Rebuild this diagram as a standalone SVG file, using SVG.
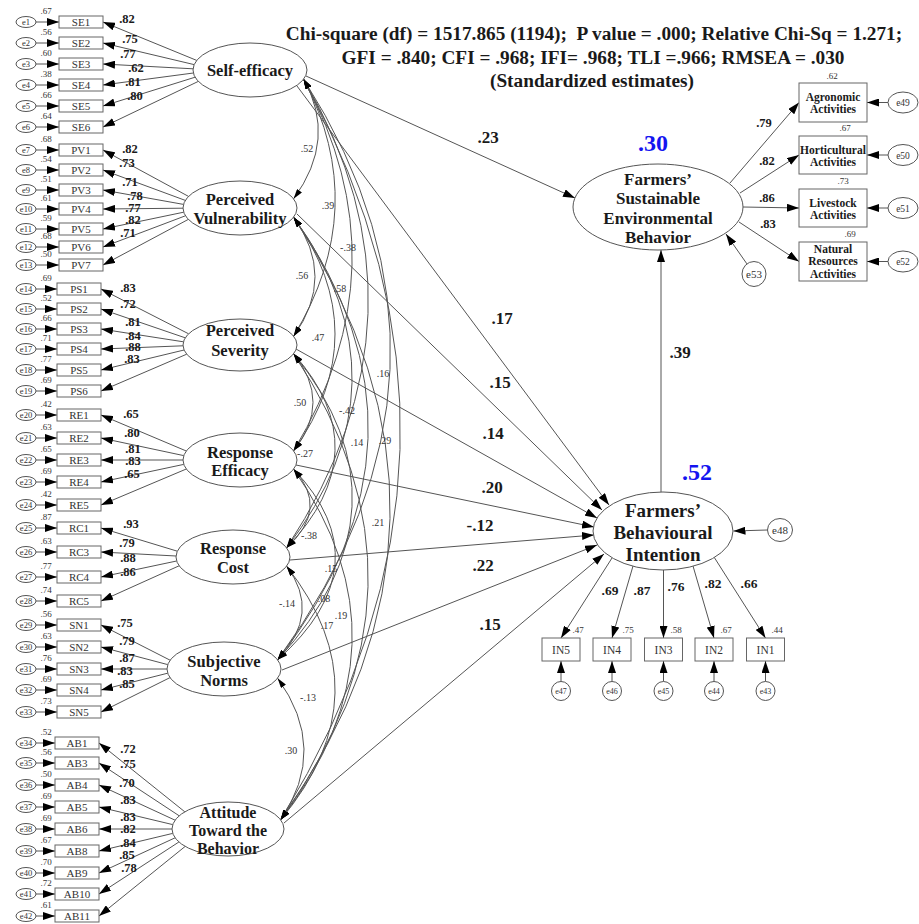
<svg xmlns="http://www.w3.org/2000/svg" width="919" height="924" viewBox="0 0 919 924">
<style>
text{font-family:"Liberation Serif","Times New Roman",serif;fill:#1a1a1a}
.lat{font-size:16.5px;font-weight:bold;text-anchor:middle}
.ov{fill:#fff;stroke:#555;stroke-width:1}
.bx{fill:#fff;stroke:#666;stroke-width:1}
.it{font-size:11px;text-anchor:middle;fill:#333}
.el{font-size:8.5px;text-anchor:middle;fill:#333}
.v{font-size:9px;text-anchor:middle;fill:#333}
.ld{font-size:12.5px;font-weight:bold;text-anchor:middle}
.cv{font-size:10px;text-anchor:middle;fill:#333}
.st{font-size:17px;font-weight:bold;text-anchor:middle}
.ti{font-size:19.3px;font-weight:bold;text-anchor:middle}
.r2{font-size:24px;font-weight:bold;text-anchor:middle;fill:#1414f0}
.rb{font-size:11.5px;font-weight:bold;text-anchor:middle}
.ln{stroke:#555;stroke-width:1;fill:none}
.ar{marker-end:url(#a)}
.cc{marker-start:url(#c);marker-end:url(#c)}
</style>
<defs>
<marker id="a" viewBox="0 0 12 8" refX="12" refY="4" markerWidth="12" markerHeight="8" markerUnits="userSpaceOnUse" orient="auto"><path d="M0,0 L12,4 L0,8 z" fill="#000"/></marker>
<marker id="c" viewBox="0 0 10 6" refX="10" refY="3" markerWidth="10" markerHeight="6" markerUnits="userSpaceOnUse" orient="auto-start-reverse"><path d="M0,0 L10,3 L0,6 z" fill="#000"/></marker>
</defs>
<rect x="0" y="0" width="919" height="924" fill="#fff"/>

<g id="title">
<text class="ti" x="594" y="40" xml:space="preserve">Chi-square (df) = 1517.865 (1194);  P value = .000; Relative Chi-Sq = 1.271;</text>
<text class="ti" x="593" y="64">GFI = .840; CFI = .968; IFI= .968; TLI =.966; RMSEA = .030</text>
<text class="ti" x="592" y="87">(Standardized estimates)</text>
</g>

<g id="connectors">
<g class="ln ar">
<line x1="36" y1="22" x2="59" y2="22"/><line x1="36" y1="43" x2="59" y2="43"/><line x1="36" y1="64" x2="59" y2="64"/><line x1="36" y1="85" x2="59" y2="85"/><line x1="36" y1="106" x2="59" y2="106"/><line x1="36" y1="127" x2="59" y2="127"/>
<line x1="36" y1="150" x2="59" y2="150"/><line x1="36" y1="170" x2="59" y2="170"/><line x1="36" y1="190" x2="59" y2="190"/><line x1="36" y1="209" x2="59" y2="209"/><line x1="36" y1="229" x2="59" y2="229"/><line x1="36" y1="247" x2="59" y2="247"/><line x1="36" y1="265" x2="59" y2="265"/>
<line x1="36" y1="289" x2="57" y2="289"/><line x1="36" y1="309" x2="57" y2="309"/><line x1="36" y1="329" x2="57" y2="329"/><line x1="36" y1="349" x2="57" y2="349"/><line x1="36" y1="370" x2="57" y2="370"/><line x1="36" y1="391" x2="57" y2="391"/>
<line x1="36" y1="415" x2="57" y2="415"/><line x1="36" y1="438" x2="57" y2="438"/><line x1="36" y1="460" x2="57" y2="460"/><line x1="36" y1="482" x2="57" y2="482"/><line x1="36" y1="505" x2="57" y2="505"/>
<line x1="36" y1="528" x2="57" y2="528"/><line x1="36" y1="552" x2="57" y2="552"/><line x1="36" y1="577" x2="57" y2="577"/><line x1="36" y1="601" x2="57" y2="601"/>
<line x1="36" y1="625" x2="57" y2="625"/><line x1="36" y1="647" x2="57" y2="647"/><line x1="36" y1="669" x2="57" y2="669"/><line x1="36" y1="690" x2="57" y2="690"/><line x1="36" y1="712" x2="57" y2="712"/>
<line x1="36" y1="743" x2="55" y2="743"/><line x1="36" y1="763" x2="55" y2="763"/><line x1="36" y1="785" x2="55" y2="785"/><line x1="36" y1="807" x2="55" y2="807"/><line x1="36" y1="829" x2="55" y2="829"/><line x1="36" y1="851" x2="55" y2="851"/><line x1="36" y1="873" x2="55" y2="873"/><line x1="36" y1="894" x2="55" y2="894"/><line x1="36" y1="916" x2="55" y2="916"/>
</g>
<g class="ln ar">
<line x1="196.7" y1="60.4" x2="103" y2="22"/><line x1="194.1" y1="64.6" x2="103" y2="43"/><line x1="193" y1="68.8" x2="103" y2="64"/><line x1="193.4" y1="73" x2="103" y2="85"/><line x1="195.1" y1="77.2" x2="103" y2="106"/><line x1="198.3" y1="81.4" x2="103" y2="127"/>
<line x1="188.5" y1="196.4" x2="103" y2="150"/><line x1="185.3" y1="200.4" x2="103" y2="170"/><line x1="183.5" y1="204.4" x2="103" y2="190"/><line x1="183" y1="208.2" x2="103" y2="209"/><line x1="183.7" y1="212.2" x2="103" y2="229"/><line x1="185.4" y1="215.8" x2="103" y2="247"/><line x1="188.3" y1="219.4" x2="103" y2="265"/>
<line x1="188.6" y1="333.8" x2="101" y2="289"/><line x1="185.2" y1="337.8" x2="101" y2="309"/><line x1="183.4" y1="341.8" x2="101" y2="329"/><line x1="183" y1="345.8" x2="101" y2="349"/><line x1="184.1" y1="350" x2="101" y2="370"/><line x1="186.7" y1="354.2" x2="101" y2="391"/>
<line x1="186.3" y1="451" x2="101" y2="415"/><line x1="183.7" y1="455.6" x2="101" y2="438"/><line x1="183" y1="460" x2="101" y2="460"/><line x1="183.7" y1="464.4" x2="101" y2="482"/><line x1="186.3" y1="469" x2="101" y2="505"/>
<line x1="177.3" y1="551.2" x2="101" y2="528"/><line x1="176.1" y1="556" x2="101" y2="552"/><line x1="176.6" y1="561" x2="101" y2="577"/><line x1="179.1" y1="565.8" x2="101" y2="601"/>
<line x1="170.1" y1="660.2" x2="101" y2="625"/><line x1="167.7" y1="664.6" x2="101" y2="647"/><line x1="167" y1="669" x2="101" y2="669"/><line x1="167.7" y1="673.2" x2="101" y2="690"/><line x1="170" y1="677.6" x2="101" y2="712"/>
<line x1="184.8" y1="811.8" x2="99" y2="743"/><line x1="179.2" y1="815.8" x2="99" y2="763"/><line x1="175.1" y1="820.2" x2="99" y2="785"/><line x1="172.7" y1="824.6" x2="99" y2="807"/><line x1="172" y1="829" x2="99" y2="829"/><line x1="172.7" y1="833.4" x2="99" y2="851"/><line x1="175.1" y1="837.8" x2="99" y2="873"/><line x1="178.9" y1="842" x2="99" y2="894"/><line x1="185.2" y1="846.4" x2="99" y2="916"/>
</g>
<g class="ln cc">
<path d="M303.6,79.2 Q337.4,139 293.6,198.8"/>
<path d="M303.6,79.2 Q371.4,207.7 293.6,336.2"/>
<path d="M303.6,79.2 Q405.4,265 293.6,450.8"/>
<path d="M303.6,79.2 Q440.9,313.5 286.6,547.8"/>
<path d="M303.6,79.2 Q489.4,369.5 277.6,659.8"/>
<path d="M303.6,79.2 Q507.9,449.5 280.6,819.8"/>
<path d="M293.6,217.2 Q336.4,276.7 293.6,336.2"/>
<path d="M293.6,217.2 Q376.4,334 293.6,450.8"/>
<path d="M293.6,217.2 Q413.9,382.5 286.6,547.8"/>
<path d="M293.6,217.2 Q450.4,438.5 277.6,659.8"/>
<path d="M293.6,217.2 Q492.9,518.5 280.6,819.8"/>
<path d="M293.6,353.8 Q332.4,402.3 293.6,450.8"/>
<path d="M293.6,353.8 Q379.9,450.8 286.6,547.8"/>
<path d="M293.6,353.8 Q418.4,506.8 277.6,659.8"/>
<path d="M293.6,353.8 Q448.9,586.8 280.6,819.8"/>
<path d="M293.6,469.2 Q329.9,508.5 286.6,547.8"/>
<path d="M293.6,469.2 Q384.4,564.5 277.6,659.8"/>
<path d="M293.6,469.2 Q416.9,644.5 280.6,819.8"/>
<path d="M286.6,566.2 Q321.9,613 277.6,659.8"/>
<path d="M286.6,566.2 Q386.4,693 280.6,819.8"/>
<path d="M277.6,678.2 Q328.9,749 280.6,819.8"/>
</g>
<g class="ln ar">
<line x1="306" y1="76" x2="575" y2="198"/>
<line x1="297" y1="86" x2="609" y2="505"/>
<line x1="297" y1="214" x2="602" y2="510"/>
<line x1="296" y1="349" x2="597" y2="518"/>
<line x1="296" y1="465" x2="594" y2="527"/>
<line x1="290" y1="560" x2="594" y2="535"/>
<line x1="282" y1="670" x2="597" y2="545"/>
<line x1="284" y1="823" x2="604" y2="554"/>
<line x1="661" y1="492" x2="661" y2="250"/>
<line x1="730" y1="183" x2="799" y2="102.5"/>
<line x1="740" y1="193" x2="799" y2="155"/>
<line x1="743" y1="207" x2="799" y2="208"/>
<line x1="739" y1="222" x2="799" y2="261.5"/>
<line x1="888" y1="102.5" x2="867" y2="102.5"/>
<line x1="888" y1="155" x2="867" y2="155"/>
<line x1="888" y1="208" x2="867" y2="208"/>
<line x1="888" y1="261.5" x2="867" y2="261.5"/>
<line x1="747" y1="264" x2="726" y2="234"/>
<line x1="767.5" y1="530" x2="733.5" y2="531"/>
<line x1="612" y1="558" x2="561" y2="638"/>
<line x1="633" y1="566" x2="612" y2="638"/>
<line x1="663.5" y1="570" x2="663.5" y2="638"/>
<line x1="693" y1="566" x2="714" y2="638"/>
<line x1="714" y1="557" x2="765.5" y2="638"/>
<line x1="561" y1="681.5" x2="561" y2="661"/>
<line x1="612" y1="681.5" x2="612" y2="661"/>
<line x1="663.5" y1="681.5" x2="663.5" y2="661"/>
<line x1="714" y1="681.5" x2="714" y2="661"/>
<line x1="765.5" y1="681.5" x2="765.5" y2="661"/>
</g>
</g>

<g id="labels">
<text class="ld" x="127" y="22.5">.82</text><text class="ld" x="130" y="42.5">.75</text><text class="ld" x="128" y="58">.77</text><text class="ld" x="136" y="72">.62</text><text class="ld" x="133" y="86">.81</text><text class="ld" x="135" y="99.5">.80</text>
<text class="ld" x="130" y="152.5">.82</text><text class="ld" x="127" y="167">.73</text><text class="ld" x="130" y="185.5">.71</text><text class="ld" x="135" y="200">.78</text><text class="ld" x="133" y="211.5">.77</text><text class="ld" x="133" y="223.5">.82</text><text class="ld" x="128" y="236.5">.71</text>
<text class="ld" x="128" y="291.5">.83</text><text class="ld" x="128" y="307.5">.72</text><text class="ld" x="133" y="325.5">.81</text><text class="ld" x="133" y="340">.84</text><text class="ld" x="133" y="351">.88</text><text class="ld" x="132" y="362.5">.83</text>
<text class="ld" x="131" y="417.5">.65</text><text class="ld" x="132" y="436.5">.80</text><text class="ld" x="133" y="453">.81</text><text class="ld" x="133" y="465">.83</text><text class="ld" x="132" y="478">.65</text>
<text class="ld" x="131" y="527.5">.93</text><text class="ld" x="127" y="546.5">.79</text><text class="ld" x="128" y="562">.88</text><text class="ld" x="128" y="575.5">.86</text>
<text class="ld" x="125" y="626.5">.75</text><text class="ld" x="127" y="644.5">.79</text><text class="ld" x="127" y="662">.87</text><text class="ld" x="125" y="675">.83</text><text class="ld" x="127" y="687.5">.85</text>
<text class="ld" x="128" y="752.5">.72</text><text class="ld" x="128" y="767.5">.75</text><text class="ld" x="127" y="786.5">.70</text><text class="ld" x="128" y="804">.83</text><text class="ld" x="128" y="820.5">.83</text><text class="ld" x="128" y="832.5">.82</text><text class="ld" x="128" y="846.5">.84</text><text class="ld" x="127" y="859">.85</text><text class="ld" x="129" y="871.5">.78</text>
<text class="cv" x="307" y="151.5">.52</text><text class="cv" x="328" y="208.5">.39</text><text class="cv" x="348" y="250.5">-.38</text><text class="cv" x="302" y="278.5">.56</text><text class="cv" x="340" y="291.5">.58</text><text class="cv" x="318" y="340.5">.47</text><text class="cv" x="383" y="376.5">.16</text><text class="cv" x="300" y="405.5">.50</text><text class="cv" x="347" y="413.5">-.42</text><text class="cv" x="357" y="445.5">.14</text><text class="cv" x="385" y="443.5">.29</text><text class="cv" x="305" y="456.5">-.27</text><text class="cv" x="378" y="525.5">.21</text><text class="cv" x="309" y="538.5">-.38</text><text class="cv" x="331" y="571.5">.15</text><text class="cv" x="324" y="601.5">.08</text><text class="cv" x="341" y="618.5">.19</text><text class="cv" x="327" y="628.5">.17</text><text class="cv" x="287" y="606.5">-.14</text><text class="cv" x="308" y="700.5">-.13</text><text class="cv" x="291" y="753.5">.30</text>
<text class="st" x="488" y="143">.23</text><text class="st" x="502" y="324">.17</text><text class="st" x="500" y="388">.15</text><text class="st" x="493" y="439">.14</text><text class="st" x="492" y="493">.20</text><text class="st" x="480" y="531">-.12</text><text class="st" x="483" y="571">.22</text><text class="st" x="490" y="630">.15</text><text class="st" x="680" y="358">.39</text>
<text class="ld" x="764" y="126.5">.79</text><text class="ld" x="767" y="164.5">.82</text><text class="ld" x="767" y="201.5">.86</text><text class="ld" x="768" y="227.5">.83</text>
<text class="v" x="832" y="79">.62</text><text class="v" x="845" y="131">.67</text><text class="v" x="843" y="184">.73</text><text class="v" x="850" y="237">.69</text>
<text class="ld" style="font-size:13.5px" x="610" y="595">.69</text><text class="ld" style="font-size:13.5px" x="642" y="595">.87</text><text class="ld" style="font-size:13.5px" x="676" y="591">.76</text><text class="ld" style="font-size:13.5px" x="713" y="588">.82</text><text class="ld" style="font-size:13.5px" x="749" y="588">.66</text>
<text class="v" x="578" y="633">.47</text><text class="v" x="628" y="633">.75</text><text class="v" x="676" y="633">.58</text><text class="v" x="726" y="633">.67</text><text class="v" x="777" y="633">.44</text>
<text class="r2" x="653" y="151">.30</text>
<text class="r2" x="697" y="480">.52</text>
</g>

<g id="SelfEfficacy"><ellipse class="ov" cx="250" cy="70" rx="57" ry="27"/><text class="lat" x="250" y="76">Self-efficacy</text></g>
<g id="PerceivedVulnerability"><ellipse class="ov" cx="240" cy="208" rx="57" ry="27"/><text class="lat" x="240" y="205">Perceived</text><text class="lat" x="240" y="224">Vulnerability</text></g>
<g id="PerceivedSeverity"><ellipse class="ov" cx="240" cy="345" rx="57" ry="26"/><text class="lat" x="240" y="336">Perceived</text><text class="lat" x="240" y="356">Severity</text></g>
<g id="ResponseEfficacy"><ellipse class="ov" cx="240" cy="460" rx="57" ry="27"/><text class="lat" x="240" y="458">Response</text><text class="lat" x="240" y="476">Efficacy</text></g>
<g id="ResponseCost"><ellipse class="ov" cx="233" cy="557" rx="57" ry="27"/><text class="lat" x="233" y="554">Response</text><text class="lat" x="233" y="573">Cost</text></g>
<g id="SubjectiveNorms"><ellipse class="ov" cx="224" cy="669" rx="57" ry="27"/><text class="lat" x="224" y="667">Subjective</text><text class="lat" x="224" y="686">Norms</text></g>
<g id="Attitude"><ellipse class="ov" cx="228" cy="829" rx="56" ry="27"/><text class="lat" style="font-size:16px" x="228" y="818">Attitude</text><text class="lat" style="font-size:16px" x="228" y="836">Toward the</text><text class="lat" style="font-size:16px" x="228" y="854">Behavior</text></g>
<g id="SEB"><ellipse class="ov" cx="658" cy="207" rx="85" ry="43"/><text class="lat" style="font-size:17px" x="658" y="185">Farmers’</text><text class="lat" style="font-size:17px" x="658" y="204">Sustainable</text><text class="lat" style="font-size:17px" x="658" y="224">Environmental</text><text class="lat" style="font-size:17px" x="658" y="243">Behavior</text></g>
<g id="BI"><ellipse class="ov" cx="663" cy="531" rx="70" ry="39"/><text class="lat" style="font-size:19px" x="663" y="516.5">Farmers’</text><text class="lat" style="font-size:19px" x="663" y="538.5">Behavioural</text><text class="lat" style="font-size:19px" x="663" y="560.5">Intention</text></g>

<g id="SE1"><rect class="bx" x="59" y="16" width="44" height="12"/><text class="it" x="81" y="26">SE1</text><text class="v" x="46" y="14">.67</text></g>
<g id="SE2"><rect class="bx" x="59" y="37" width="44" height="12"/><text class="it" x="81" y="47">SE2</text><text class="v" x="46" y="35">.56</text></g>
<g id="SE3"><rect class="bx" x="59" y="58" width="44" height="12"/><text class="it" x="81" y="68">SE3</text><text class="v" x="46" y="56">.60</text></g>
<g id="SE4"><rect class="bx" x="59" y="79" width="44" height="12"/><text class="it" x="81" y="89">SE4</text><text class="v" x="46" y="77">.38</text></g>
<g id="SE5"><rect class="bx" x="59" y="100" width="44" height="12"/><text class="it" x="81" y="110">SE5</text><text class="v" x="46" y="98">.66</text></g>
<g id="SE6"><rect class="bx" x="59" y="121" width="44" height="12"/><text class="it" x="81" y="131">SE6</text><text class="v" x="46" y="119">.64</text></g>
<g id="PV1"><rect class="bx" x="59" y="144" width="44" height="12"/><text class="it" x="81" y="154">PV1</text><text class="v" x="46" y="142">.68</text></g>
<g id="PV2"><rect class="bx" x="59" y="164" width="44" height="12"/><text class="it" x="81" y="174">PV2</text><text class="v" x="46" y="162">.54</text></g>
<g id="PV3"><rect class="bx" x="59" y="184" width="44" height="12"/><text class="it" x="81" y="194">PV3</text><text class="v" x="46" y="182">.51</text></g>
<g id="PV4"><rect class="bx" x="59" y="203" width="44" height="12"/><text class="it" x="81" y="213">PV4</text><text class="v" x="46" y="201">.61</text></g>
<g id="PV5"><rect class="bx" x="59" y="223" width="44" height="12"/><text class="it" x="81" y="233">PV5</text><text class="v" x="46" y="221">.59</text></g>
<g id="PV6"><rect class="bx" x="59" y="241" width="44" height="12"/><text class="it" x="81" y="251">PV6</text><text class="v" x="46" y="239">.68</text></g>
<g id="PV7"><rect class="bx" x="59" y="259" width="44" height="12"/><text class="it" x="81" y="269">PV7</text><text class="v" x="46" y="257">.50</text></g>
<g id="PS1"><rect class="bx" x="57" y="283" width="44" height="12"/><text class="it" x="79" y="293">PS1</text><text class="v" x="46" y="281">.69</text></g>
<g id="PS2"><rect class="bx" x="57" y="303" width="44" height="12"/><text class="it" x="79" y="313">PS2</text><text class="v" x="46" y="301">.52</text></g>
<g id="PS3"><rect class="bx" x="57" y="323" width="44" height="12"/><text class="it" x="79" y="333">PS3</text><text class="v" x="46" y="321">.66</text></g>
<g id="PS4"><rect class="bx" x="57" y="343" width="44" height="12"/><text class="it" x="79" y="353">PS4</text><text class="v" x="46" y="341">.71</text></g>
<g id="PS5"><rect class="bx" x="57" y="364" width="44" height="12"/><text class="it" x="79" y="374">PS5</text><text class="v" x="46" y="362">.77</text></g>
<g id="PS6"><rect class="bx" x="57" y="385" width="44" height="12"/><text class="it" x="79" y="395">PS6</text><text class="v" x="46" y="383">.69</text></g>
<g id="RE1"><rect class="bx" x="57" y="409" width="44" height="12"/><text class="it" x="79" y="419">RE1</text><text class="v" x="46" y="407">.42</text></g>
<g id="RE2"><rect class="bx" x="57" y="432" width="44" height="12"/><text class="it" x="79" y="442">RE2</text><text class="v" x="46" y="430">.63</text></g>
<g id="RE3"><rect class="bx" x="57" y="454" width="44" height="12"/><text class="it" x="79" y="464">RE3</text><text class="v" x="46" y="452">.65</text></g>
<g id="RE4"><rect class="bx" x="57" y="476" width="44" height="12"/><text class="it" x="79" y="486">RE4</text><text class="v" x="46" y="474">.69</text></g>
<g id="RE5"><rect class="bx" x="57" y="499" width="44" height="12"/><text class="it" x="79" y="509">RE5</text><text class="v" x="46" y="497">.42</text></g>
<g id="RC1"><rect class="bx" x="57" y="522" width="44" height="12"/><text class="it" x="79" y="532">RC1</text><text class="v" x="46" y="520">.87</text></g>
<g id="RC3"><rect class="bx" x="57" y="546" width="44" height="12"/><text class="it" x="79" y="556">RC3</text><text class="v" x="46" y="544">.63</text></g>
<g id="RC4"><rect class="bx" x="57" y="571" width="44" height="12"/><text class="it" x="79" y="581">RC4</text><text class="v" x="46" y="569">.77</text></g>
<g id="RC5"><rect class="bx" x="57" y="595" width="44" height="12"/><text class="it" x="79" y="605">RC5</text><text class="v" x="46" y="593">.74</text></g>
<g id="SN1"><rect class="bx" x="57" y="619" width="44" height="12"/><text class="it" x="79" y="629">SN1</text><text class="v" x="46" y="617">.56</text></g>
<g id="SN2"><rect class="bx" x="57" y="641" width="44" height="12"/><text class="it" x="79" y="651">SN2</text><text class="v" x="46" y="639">.63</text></g>
<g id="SN3"><rect class="bx" x="57" y="663" width="44" height="12"/><text class="it" x="79" y="673">SN3</text><text class="v" x="46" y="661">.76</text></g>
<g id="SN4"><rect class="bx" x="57" y="684" width="44" height="12"/><text class="it" x="79" y="694">SN4</text><text class="v" x="46" y="682">.69</text></g>
<g id="SN5"><rect class="bx" x="57" y="706" width="44" height="12"/><text class="it" x="79" y="716">SN5</text><text class="v" x="46" y="704">.73</text></g>
<g id="AB1"><rect class="bx" x="55" y="737" width="44" height="12"/><text class="it" x="77" y="747">AB1</text><text class="v" x="46" y="735">.52</text></g>
<g id="AB3"><rect class="bx" x="55" y="757" width="44" height="12"/><text class="it" x="77" y="767">AB3</text><text class="v" x="46" y="755">.56</text></g>
<g id="AB4"><rect class="bx" x="55" y="779" width="44" height="12"/><text class="it" x="77" y="789">AB4</text><text class="v" x="46" y="777">.50</text></g>
<g id="AB5"><rect class="bx" x="55" y="801" width="44" height="12"/><text class="it" x="77" y="811">AB5</text><text class="v" x="46" y="799">.69</text></g>
<g id="AB6"><rect class="bx" x="55" y="823" width="44" height="12"/><text class="it" x="77" y="833">AB6</text><text class="v" x="46" y="821">.69</text></g>
<g id="AB8"><rect class="bx" x="55" y="845" width="44" height="12"/><text class="it" x="77" y="855">AB8</text><text class="v" x="46" y="843">.67</text></g>
<g id="AB9"><rect class="bx" x="55" y="867" width="44" height="12"/><text class="it" x="77" y="877">AB9</text><text class="v" x="46" y="865">.70</text></g>
<g id="AB10"><rect class="bx" x="55" y="888" width="44" height="12"/><text class="it" x="77" y="898">AB10</text><text class="v" x="46" y="886">.72</text></g>
<g id="AB11"><rect class="bx" x="55" y="910" width="44" height="12"/><text class="it" x="77" y="920">AB11</text><text class="v" x="46" y="908">.61</text></g>

<g id="e1"><ellipse class="ov" cx="26" cy="22" rx="10" ry="5.5"/><text class="el" x="26" y="25">e1</text></g>
<g id="e2"><ellipse class="ov" cx="26" cy="43" rx="10" ry="5.5"/><text class="el" x="26" y="46">e2</text></g>
<g id="e3"><ellipse class="ov" cx="26" cy="64" rx="10" ry="5.5"/><text class="el" x="26" y="67">e3</text></g>
<g id="e4"><ellipse class="ov" cx="26" cy="85" rx="10" ry="5.5"/><text class="el" x="26" y="88">e4</text></g>
<g id="e5"><ellipse class="ov" cx="26" cy="106" rx="10" ry="5.5"/><text class="el" x="26" y="109">e5</text></g>
<g id="e6"><ellipse class="ov" cx="26" cy="127" rx="10" ry="5.5"/><text class="el" x="26" y="130">e6</text></g>
<g id="e7"><ellipse class="ov" cx="26" cy="150" rx="10" ry="5.5"/><text class="el" x="26" y="153">e7</text></g>
<g id="e8"><ellipse class="ov" cx="26" cy="170" rx="10" ry="5.5"/><text class="el" x="26" y="173">e8</text></g>
<g id="e9"><ellipse class="ov" cx="26" cy="190" rx="10" ry="5.5"/><text class="el" x="26" y="193">e9</text></g>
<g id="e10"><ellipse class="ov" cx="26" cy="209" rx="10" ry="5.5"/><text class="el" x="26" y="212">e10</text></g>
<g id="e11"><ellipse class="ov" cx="26" cy="229" rx="10" ry="5.5"/><text class="el" x="26" y="232">e11</text></g>
<g id="e12"><ellipse class="ov" cx="26" cy="247" rx="10" ry="5.5"/><text class="el" x="26" y="250">e12</text></g>
<g id="e13"><ellipse class="ov" cx="26" cy="265" rx="10" ry="5.5"/><text class="el" x="26" y="268">e13</text></g>
<g id="e14"><ellipse class="ov" cx="26" cy="289" rx="10" ry="5.5"/><text class="el" x="26" y="292">e14</text></g>
<g id="e15"><ellipse class="ov" cx="26" cy="309" rx="10" ry="5.5"/><text class="el" x="26" y="312">e15</text></g>
<g id="e16"><ellipse class="ov" cx="26" cy="329" rx="10" ry="5.5"/><text class="el" x="26" y="332">e16</text></g>
<g id="e17"><ellipse class="ov" cx="26" cy="349" rx="10" ry="5.5"/><text class="el" x="26" y="352">e17</text></g>
<g id="e18"><ellipse class="ov" cx="26" cy="370" rx="10" ry="5.5"/><text class="el" x="26" y="373">e18</text></g>
<g id="e19"><ellipse class="ov" cx="26" cy="391" rx="10" ry="5.5"/><text class="el" x="26" y="394">e19</text></g>
<g id="e20"><ellipse class="ov" cx="26" cy="415" rx="10" ry="5.5"/><text class="el" x="26" y="418">e20</text></g>
<g id="e21"><ellipse class="ov" cx="26" cy="438" rx="10" ry="5.5"/><text class="el" x="26" y="441">e21</text></g>
<g id="e22"><ellipse class="ov" cx="26" cy="460" rx="10" ry="5.5"/><text class="el" x="26" y="463">e22</text></g>
<g id="e23"><ellipse class="ov" cx="26" cy="482" rx="10" ry="5.5"/><text class="el" x="26" y="485">e23</text></g>
<g id="e24"><ellipse class="ov" cx="26" cy="505" rx="10" ry="5.5"/><text class="el" x="26" y="508">e24</text></g>
<g id="e25"><ellipse class="ov" cx="26" cy="528" rx="10" ry="5.5"/><text class="el" x="26" y="531">e25</text></g>
<g id="e26"><ellipse class="ov" cx="26" cy="552" rx="10" ry="5.5"/><text class="el" x="26" y="555">e26</text></g>
<g id="e27"><ellipse class="ov" cx="26" cy="577" rx="10" ry="5.5"/><text class="el" x="26" y="580">e27</text></g>
<g id="e28"><ellipse class="ov" cx="26" cy="601" rx="10" ry="5.5"/><text class="el" x="26" y="604">e28</text></g>
<g id="e29"><ellipse class="ov" cx="26" cy="625" rx="10" ry="5.5"/><text class="el" x="26" y="628">e29</text></g>
<g id="e30"><ellipse class="ov" cx="26" cy="647" rx="10" ry="5.5"/><text class="el" x="26" y="650">e30</text></g>
<g id="e31"><ellipse class="ov" cx="26" cy="669" rx="10" ry="5.5"/><text class="el" x="26" y="672">e31</text></g>
<g id="e32"><ellipse class="ov" cx="26" cy="690" rx="10" ry="5.5"/><text class="el" x="26" y="693">e32</text></g>
<g id="e33"><ellipse class="ov" cx="26" cy="712" rx="10" ry="5.5"/><text class="el" x="26" y="715">e33</text></g>
<g id="e34"><ellipse class="ov" cx="26" cy="743" rx="10" ry="5.5"/><text class="el" x="26" y="746">e34</text></g>
<g id="e35"><ellipse class="ov" cx="26" cy="763" rx="10" ry="5.5"/><text class="el" x="26" y="766">e35</text></g>
<g id="e36"><ellipse class="ov" cx="26" cy="785" rx="10" ry="5.5"/><text class="el" x="26" y="788">e36</text></g>
<g id="e37"><ellipse class="ov" cx="26" cy="807" rx="10" ry="5.5"/><text class="el" x="26" y="810">e37</text></g>
<g id="e38"><ellipse class="ov" cx="26" cy="829" rx="10" ry="5.5"/><text class="el" x="26" y="832">e38</text></g>
<g id="e39"><ellipse class="ov" cx="26" cy="851" rx="10" ry="5.5"/><text class="el" x="26" y="854">e39</text></g>
<g id="e40"><ellipse class="ov" cx="26" cy="873" rx="10" ry="5.5"/><text class="el" x="26" y="876">e40</text></g>
<g id="e41"><ellipse class="ov" cx="26" cy="894" rx="10" ry="5.5"/><text class="el" x="26" y="897">e41</text></g>
<g id="e42"><ellipse class="ov" cx="26" cy="916" rx="10" ry="5.5"/><text class="el" x="26" y="919">e42</text></g>

<g id="Agronomic"><rect class="bx" x="799" y="83" width="68" height="39"/><text class="rb" x="833" y="100.5">Agronomic</text><text class="rb" x="833" y="113">Activities</text></g>
<g id="Horticultural"><rect class="bx" x="799" y="136" width="68" height="38"/><text class="rb" x="833" y="154">Horticultural</text><text class="rb" x="833" y="166">Activities</text></g>
<g id="Livestock"><rect class="bx" x="799" y="189" width="68" height="38"/><text class="rb" x="833" y="207">Livestock</text><text class="rb" x="833" y="219">Activities</text></g>
<g id="NaturalResources"><rect class="bx" x="799" y="242" width="68" height="39"/><text class="rb" x="833" y="252.5">Natural</text><text class="rb" x="833" y="265">Resources</text><text class="rb" x="833" y="277.5">Activities</text></g>
<g id="e49"><ellipse class="ov" cx="903" cy="102.5" rx="15" ry="10.5"/><text class="el" style="font-size:9.5px" x="903" y="106">e49</text></g>
<g id="e50"><ellipse class="ov" cx="903" cy="155" rx="15" ry="10.5"/><text class="el" style="font-size:9.5px" x="903" y="158.5">e50</text></g>
<g id="e51"><ellipse class="ov" cx="903" cy="208" rx="15" ry="10.5"/><text class="el" style="font-size:9.5px" x="903" y="211.5">e51</text></g>
<g id="e52"><ellipse class="ov" cx="903" cy="261.5" rx="15" ry="10.5"/><text class="el" style="font-size:9.5px" x="903" y="265">e52</text></g>
<g id="e53"><ellipse class="ov" cx="754" cy="274" rx="12" ry="12.5"/><text class="el" style="font-size:11px" x="754" y="278">e53</text></g>
<g id="e48"><ellipse class="ov" cx="780" cy="530" rx="12.5" ry="11.5"/><text class="el" style="font-size:11px" x="780" y="534">e48</text></g>

<g id="IN5"><rect class="bx" x="542" y="638" width="38" height="23"/><text class="it" style="font-size:11.5px" x="561" y="653.5">IN5</text></g>
<g id="IN4"><rect class="bx" x="593" y="638" width="38" height="23"/><text class="it" style="font-size:11.5px" x="612" y="653.5">IN4</text></g>
<g id="IN3"><rect class="bx" x="644.5" y="638" width="38" height="23"/><text class="it" style="font-size:11.5px" x="663.5" y="653.5">IN3</text></g>
<g id="IN2"><rect class="bx" x="695" y="638" width="38" height="23"/><text class="it" style="font-size:11.5px" x="714" y="653.5">IN2</text></g>
<g id="IN1"><rect class="bx" x="746.5" y="638" width="38" height="23"/><text class="it" style="font-size:11.5px" x="765.5" y="653.5">IN1</text></g>
<g id="e47"><ellipse class="ov" cx="561" cy="691" rx="9.5" ry="9.5"/><text class="el" style="font-size:8px" x="561" y="694">e47</text></g>
<g id="e46"><ellipse class="ov" cx="612" cy="691" rx="9.5" ry="9.5"/><text class="el" style="font-size:8px" x="612" y="694">e46</text></g>
<g id="e45"><ellipse class="ov" cx="663.5" cy="691" rx="9.5" ry="9.5"/><text class="el" style="font-size:8px" x="663.5" y="694">e45</text></g>
<g id="e44"><ellipse class="ov" cx="714" cy="691" rx="9.5" ry="9.5"/><text class="el" style="font-size:8px" x="714" y="694">e44</text></g>
<g id="e43"><ellipse class="ov" cx="765.5" cy="691" rx="9.5" ry="9.5"/><text class="el" style="font-size:8px" x="765.5" y="694">e43</text></g>
</svg>
